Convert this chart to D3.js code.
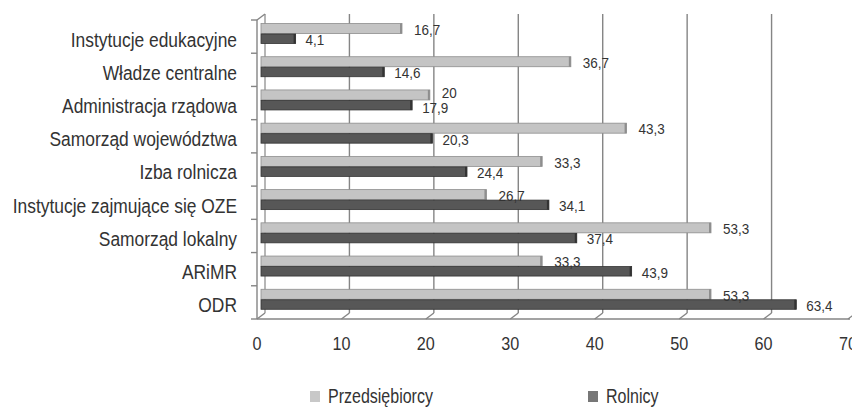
<!DOCTYPE html>
<html>
<head>
<meta charset="utf-8">
<script src="https://cdn.jsdelivr.net/npm/d3@7/dist/d3.min.js"></script>
<style>
  html, body { margin: 0; padding: 0; background: #fff; }
  svg { display: block; font-family: "Liberation Sans", Arial, sans-serif; }
</style>
</head>
<body>
<svg id="chart" width="852" height="408"></svg>
<script>
// Categories, top to bottom
const categories = [
  "Instytucje edukacyjne",
  "Władze centralne",
  "Administracja rządowa",
  "Samorząd województwa",
  "Izba rolnicza",
  "Instytucje zajmujące się OZE",
  "Samorząd lokalny",
  "ARiMR",
  "ODR"
];
const przedsiebiorcy = [16.7, 36.7, 20, 43.3, 33.3, 26.7, 53.3, 33.3, 53.3];
const rolnicy = [4.1, 14.6, 17.9, 20.3, 24.4, 34.1, 37.4, 43.9, 63.4];
const seriesNames = ["Przedsiębiorcy", "Rolnicy"];
const xTicks = [0, 10, 20, 30, 40, 50, 60, 70];

const svg = d3.select("#chart");
const textColor = "#333";
const fmt = v => String(v).replace(".", ",");

// condensed text: regular face squeezed horizontally
function label(parent, px, py, str, size, sx, anchor) {
  return parent.append("text")
    .attr("transform", `translate(${px},${py}) scale(${sx},1)`)
    .attr("text-anchor", anchor || "start")
    .attr("dominant-baseline", "central")
    .attr("font-size", size).attr("fill", textColor).text(str);
}

// depth of the pseudo-3D box
const dx = 8, dy = -6;

const x = d3.scaleLinear().domain([0, 70]).range([257, 848]);
const y = d3.scaleBand().domain(categories).range([20, 319]).padding(0);

const plotBottom = 319, plotTop = 20;
const gridColor = "#858585";

// back wall gridlines
svg.append("g").selectAll("line").data(xTicks.filter(t => t > 0 && t < 70)).join("line")
  .attr("x1", d => x(d) + dx).attr("x2", d => x(d) + dx)
  .attr("y1", plotTop + dy).attr("y2", plotBottom + dy)
  .attr("stroke", gridColor).attr("stroke-width", 1.4);

// floor: front edge and slanted ticks
svg.append("line").attr("x1", x(0)).attr("x2", x(70) + 2).attr("y1", plotBottom).attr("y2", plotBottom)
  .attr("stroke", gridColor).attr("stroke-width", 1.4);
svg.append("g").selectAll("line").data(xTicks).join("line")
  .attr("x1", d => x(d)).attr("x2", d => x(d) + dx)
  .attr("y1", plotBottom).attr("y2", plotBottom + dy)
  .attr("stroke", gridColor).attr("stroke-width", 1.4);

// left wall
svg.append("line").attr("x1", x(0)).attr("x2", x(0)).attr("y1", plotTop).attr("y2", plotBottom)
  .attr("stroke", gridColor).attr("stroke-width", 1.4);
svg.append("line").attr("x1", x(0) + dx).attr("x2", x(0) + dx).attr("y1", plotTop + dy).attr("y2", plotBottom + dy)
  .attr("stroke", gridColor).attr("stroke-width", 1.2);
svg.append("line").attr("x1", x(0)).attr("x2", x(0) + dx).attr("y1", plotTop).attr("y2", plotTop + dy)
  .attr("stroke", gridColor).attr("stroke-width", 1.4);
const bounds = categories.map(c => y(c)).concat([plotBottom]);
svg.append("g").selectAll("line").data(bounds).join("line")
  .attr("x1", x(0) - 6).attr("x2", x(0))
  .attr("y1", d => d).attr("y2", d => d)
  .attr("stroke", gridColor).attr("stroke-width", 1.4);

// bars
const barX0 = x(0) + dx / 2;
const w = v => x(v) - x(0);
const series = [
  { vals: przedsiebiorcy, fill: "#c4c4c4", edge: "#8e8e8e", off: 3.5, h: 10, gap: 12 },
  { vals: rolnicy, fill: "#575757", edge: "#333", off: 14, h: 9.5, gap: 10 }
];
const valueSize = 15, valueScale = 0.9;
const labelWidth = v => fmt(v).length * 7.5;
const barsG = svg.append("g");
const valuesG = svg.append("g");
series.forEach((s, si) => {
  categories.forEach((c, i) => {
    const v = s.vals[i];
    const by = y(c) + s.off;
    barsG.append("rect").attr("x", barX0).attr("y", by).attr("width", w(v)).attr("height", s.h)
      .attr("fill", s.fill).attr("stroke", s.edge).attr("stroke-width", 0.8);
    barsG.append("rect").attr("x", barX0 + w(v) - 2).attr("y", by).attr("width", 2).attr("height", s.h)
      .attr("fill", s.edge);
    // push the pair of value labels apart when they would collide
    const lx = barX0 + w(przedsiebiorcy[i]) + series[0].gap;
    const dxl = barX0 + w(rolnicy[i]) + series[1].gap;
    const clash = lx < dxl + labelWidth(rolnicy[i]) && dxl < lx + labelWidth(przedsiebiorcy[i]);
    const nudge = clash ? (si === 0 ? -3.5 : 1.5) : 0;
    label(valuesG, barX0 + w(v) + s.gap, by + s.h / 2 + 1 + nudge, fmt(v), valueSize, valueScale);
  });
});

// category labels
const catG = svg.append("g");
categories.forEach(c => label(catG, 237, y(c) + y.bandwidth() / 2 + 3, c, 20, 0.87, "end"));

// x tick labels
const tickG = svg.append("g");
xTicks.forEach(t => label(tickG, x(t), 344, t, 18, 0.9, "middle"));

// legend
const legend = [
  { name: seriesNames[0], fill: "#c8c8c8", x: 310 },
  { name: seriesNames[1], fill: "#777", x: 588 }
];
legend.forEach(l => {
  svg.append("rect").attr("x", l.x).attr("y", 391).attr("width", 10).attr("height", 11).attr("fill", l.fill);
  label(svg, l.x + 18, 396, l.name, 20, 0.8);
});
</script>
</body>
</html>
